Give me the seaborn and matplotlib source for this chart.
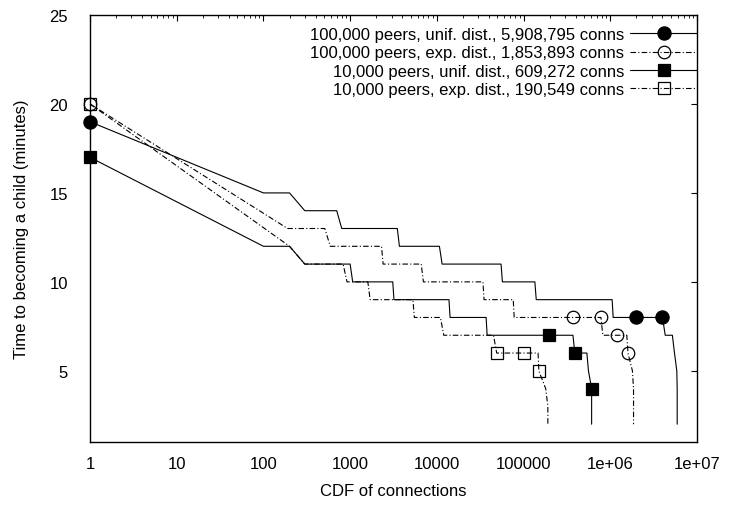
import numpy as np
import pandas as pd
import matplotlib
matplotlib.use("Agg")
import matplotlib.pyplot as plt
import seaborn as sns
from matplotlib.ticker import FixedLocator, FixedFormatter, NullFormatter

sns.set_theme(style="white")
plt.rcParams['font.family'] = ['Liberation Sans', 'DejaVu Sans']

# ---- data ----
labels = [
    "100,000 peers, unif. dist., 5,908,795 conns",
    "100,000 peers, exp. dist., 1,853,893 conns",
    "10,000 peers, unif. dist., 609,272 conns",
    "10,000 peers, exp. dist., 190,549 conns",
]

a_x = [1, 100, 200, 300, 700, 800, 3500, 3700, 10700, 11500, 55000, 57000, 135000, 140000,
       1.05e6, 1.08e6, 2.0e6, 4.0e6, 4.3e6, 5.2e6, 5.5e6, 5.85e6, 5908795, 5908795, 5908795]
a_y = [19, 15, 15, 14, 14, 13, 13, 12, 12, 11, 11, 10, 10, 9,
       9, 8, 8, 8, 7, 7, 6, 5, 4, 3, 2]
a_marks = [0, 16, 17]

b_x = [1, 190, 510, 590, 2300, 2400, 6600, 7000, 34000, 35000, 76000, 78000, 371000, 780000,
       820000, 1.2e6, 1.55e6, 1.6e6, 1.8e6, 1853893, 1853893, 1853893]
b_y = [20, 13, 13, 12, 12, 11, 11, 10, 10, 9, 9, 8, 8, 8,
       7, 7, 7, 6, 5, 4, 3, 2]
b_marks = [0, 12, 13, 15, 17]

c_x = [1, 100, 200, 300, 1000, 1070, 3100, 3200, 13800, 14200, 37000, 38000, 195000, 371000,
       390000, 537000, 560000, 609272, 609272, 609272]
c_y = [17, 12, 12, 11, 11, 10, 10, 9, 9, 8, 8, 7, 7, 7,
       6, 6, 5, 4, 3, 2]
c_marks = [0, 12, 14, 17]

d_x = [1, 200, 300, 830, 920, 1600, 1700, 5300, 5500, 11000, 12000, 45000, 49000, 100000,
       147000, 150000, 180000, 190549, 190549]
d_y = [20, 12, 11, 11, 10, 10, 9, 9, 8, 8, 7, 7, 6, 6,
       6, 5, 4, 3, 2]
d_marks = [0, 12, 13, 15]

x_ticks = [1, 10, 100, 1000, 10000, 100000, 1e6, 1e7]
x_tick_labels = ["1", "10", "100", "1000", "10000", "100000", "1e+06", "1e+07"]
y_ticks = [5, 10, 15, 20, 25]

# ---- figure ----
W, H = 731, 506
fig = plt.figure(figsize=(W / 100, H / 100), dpi=100)
L, R, T, B = 90, 697, 16, 443
ax = fig.add_axes([L / W, 1 - B / H, (R - L) / W, (B - T) / H])

dashdot = (0, (5, 2, 1, 2))
styles = [
    dict(ls="-", marker="o", mfc="black", ms=9.5),
    dict(ls=dashdot, marker="o", mfc="none", ms=9.0),
    dict(ls="-", marker="s", mfc="black", ms=8.5),
    dict(ls=dashdot, marker="s", mfc="none", ms=8.5),
]
series = [(a_x, a_y, a_marks), (b_x, b_y, b_marks), (c_x, c_y, c_marks), (d_x, d_y, d_marks)]

handles = []
for (xs, ys, mk), st, lab in zip(series, styles, labels):
    df = pd.DataFrame({"conns": xs, "minutes": ys})
    sns.lineplot(data=df, x="conns", y="minutes", ax=ax, estimator=None, sort=False,
                 color="black", linewidth=0.8, linestyle=st["ls"], marker=st["marker"],
                 markersize=st["ms"], markerfacecolor=st["mfc"], markeredgecolor="black",
                 markeredgewidth=0.9, markevery=mk, label=lab, clip_on=False)
    handles.append(ax.get_lines()[-1])

ax.set_xscale("log")
ax.set_xlim(1, 1e7)
ax.set_ylim(1, 25)
ax.xaxis.set_major_locator(FixedLocator(x_ticks))
ax.xaxis.set_major_formatter(FixedFormatter(x_tick_labels))
ax.xaxis.set_minor_locator(FixedLocator([m * 10 ** e for e in range(0, 7) for m in range(2, 10)]))
ax.xaxis.set_minor_formatter(NullFormatter())
ax.yaxis.set_major_locator(FixedLocator(y_ticks))

for s in ax.spines.values():
    s.set_visible(True)
    s.set_color("black")
    s.set_linewidth(1.0)

ax.tick_params(axis="both", which="both", direction="in", top=True, right=True,
               colors="black", labelsize=12)
ax.tick_params(axis="both", which="major", length=4, width=0.8)
ax.tick_params(axis="x", which="minor", length=2.2, width=0.6)
ax.tick_params(axis="x", which="major", pad=10)
ax.tick_params(axis="y", which="major", pad=16)

ax.set_xlabel("CDF of connections", fontsize=12, color="black")
ax.set_ylabel("Time to becoming a child (minutes)", fontsize=12, color="black")
ax.xaxis.set_label_coords(0.5, -0.097)
ax.yaxis.set_label_coords(-0.1, 0.5)

leg = ax.legend(handles=handles, labels=labels, loc="upper right",
                bbox_to_anchor=(1.0, 1 - 12 / (B - T)), markerfirst=False, frameon=False,
                handlelength=4.0, handletextpad=0.35, labelspacing=0.2, borderpad=0,
                borderaxespad=0, fontsize=12)
for t in leg.get_texts():
    t.set_color("black")

fig.savefig("out.png", dpi=100, facecolor="white")
